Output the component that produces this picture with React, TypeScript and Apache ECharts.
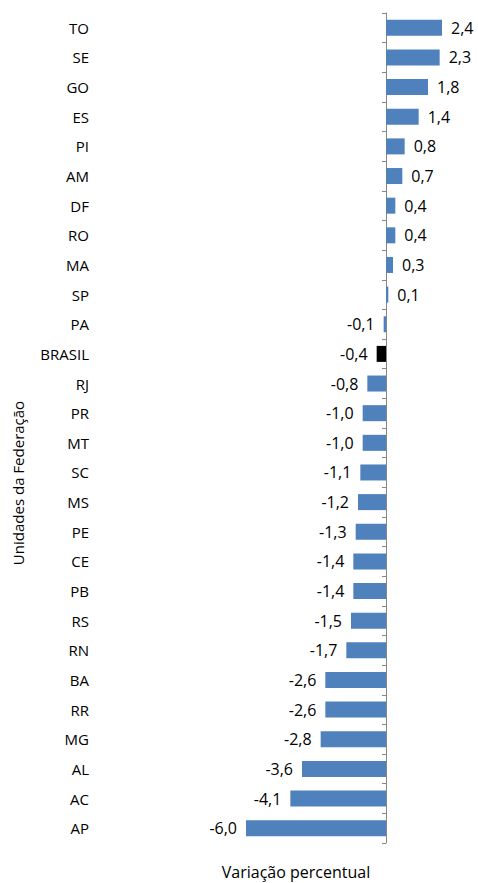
import React, { useEffect, useRef } from "react";
import * as echarts from "echarts";

const categories = ["TO", "SE", "GO", "ES", "PI", "AM", "DF", "RO", "MA", "SP", "PA", "BRASIL", "RJ", "PR", "MT", "SC", "MS", "PE", "CE", "PB", "RS", "RN", "BA", "RR", "MG", "AL", "AC", "AP"];
const values = [2.4, 2.3, 1.8, 1.4, 0.8, 0.7, 0.4, 0.4, 0.3, 0.1, -0.1, -0.4, -0.8, -1.0, -1.0, -1.1, -1.2, -1.3, -1.4, -1.4, -1.5, -1.7, -2.6, -2.6, -2.8, -3.6, -4.1, -6.0];
const highlight = "BRASIL";
const xTitle = "Variação percentual";
const yTitle = "Unidades da Federação";

const FONT = "Open Sans";

export default function App() {
  const ref = useRef<HTMLDivElement>(null);
  useEffect(() => {
    if (!ref.current) return;
    const chart = echarts.init(ref.current, undefined, { renderer: "svg" });
    const data = values.map((v, i) => ({
      value: v,
      itemStyle: { color: categories[i] === highlight ? "#000000" : "#4F81BD" },
      label: { position: v >= 0 ? "right" : "left" },
    }));
    chart.setOption({
      animation: false,
      backgroundColor: "#ffffff",
      grid: { left: 246, right: 22, top: 13, bottom: 40, containLabel: false, outerBoundsMode: "none" },
      xAxis: {
        type: "value",
        min: -6,
        max: 3,
        show: false,
        splitLine: { show: false },
      },
      yAxis: {
        type: "category",
        data: categories,
        inverse: true,
        axisLine: { show: true, onZero: true, lineStyle: { color: "#868686", width: 1 } },
        axisTick: { show: true, length: 4, lineStyle: { color: "#868686" } },
        axisLabel: {
          margin: 157,
          color: "#000",
          fontFamily: FONT,
          fontSize: 15,
          align: "right",
        },
      },
      series: [
        {
          type: "bar",
          data,
          barWidth: 16,
          label: {
            show: true,
            distance: 9,
            color: "#000",
            fontFamily: FONT,
            fontSize: 16,
            formatter: (p: any) => p.value.toFixed(1).replace(".", ","),
          },
        },
      ],
      graphic: [
        {
          type: "text",
          x: 296,
          y: 872,
          style: {
            text: xTitle,
            fontFamily: FONT,
            fontSize: 16,
            fill: "#000",
            align: "center",
            verticalAlign: "middle",
          },
        },
        {
          type: "text",
          x: 18,
          y: 483,
          rotation: Math.PI / 2,
          style: {
            text: yTitle,
            fontFamily: FONT,
            fontSize: 15,
            fill: "#000",
            align: "center",
            verticalAlign: "middle",
          },
        },
      ],
    });
    return () => chart.dispose();
  }, []);
  return (
    <div
      ref={ref}
      style={{ position: "fixed", left: 0, top: 0, width: 478, height: 883 }}
    />
  );
}
